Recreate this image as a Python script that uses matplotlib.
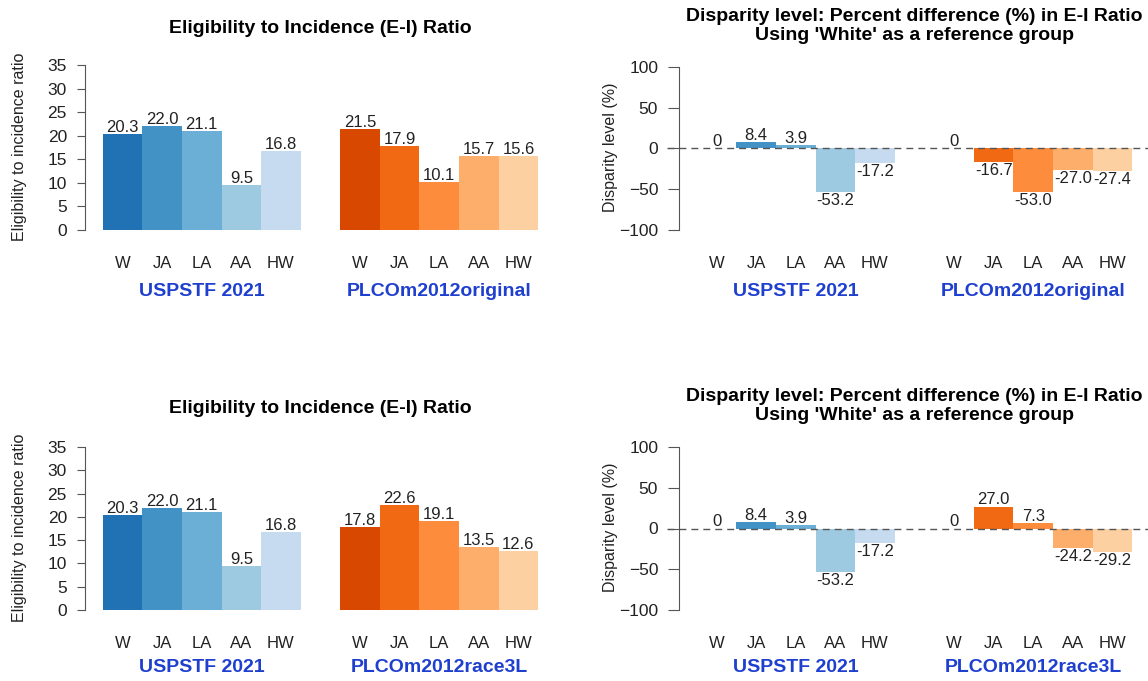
import numpy as np
import matplotlib
matplotlib.use('Agg')
import matplotlib.pyplot as plt
from matplotlib.transforms import blended_transform_factory

plt.rcParams['font.family'] = ['Liberation Sans', 'DejaVu Sans']

# data
groups = ['W', 'JA', 'LA', 'AA', 'HW']
ref_name = 'USPSTF 2021'
model_top = 'PLCOm2012original'
model_bottom = 'PLCOm2012race3L'

ei_uspstf = [20.3, 22.0, 21.1, 9.5, 16.8]
ei_original = [21.5, 17.9, 10.1, 15.7, 15.6]
ei_race3l = [17.8, 22.6, 19.1, 13.5, 12.6]

disp_uspstf = [0, 8.4, 3.9, -53.2, -17.2]
disp_original = [0, -16.7, -53.0, -27.0, -27.4]
disp_race3l = [0, 27.0, 7.3, -24.2, -29.2]

ei_ticks = [0, 5, 10, 15, 20, 25, 30, 35]
disp_ticks = [-100, -50, 0, 50, 100]

blues = ['#2171b5', '#4292c6', '#6baed6', '#9ecae1', '#c6dbef']
oranges = ['#d94801', '#f16913', '#fd8d3c', '#fdae6b', '#fdd0a2']
group_blue = '#1f3fcf'
txt = '#222222'

W, H = 1148, 681
fig = plt.figure(figsize=(W / 100, H / 100), dpi=100)


def fy(y):
    # pixel row -> figure fraction
    return 1 - y / H


def fmt(v):
    return '0' if v == 0 else f'{v:.1f}'


def panel(x0, x1, y0, y1, vals1, vals2, ylim, yticks, model, disparity,
          ylab, ylab_x, title_lines, tick_len, grp_y):
    ax = fig.add_axes([x0 / W, fy(y1), (x1 - x0) / W, (y1 - y0) / H])
    pos1 = np.arange(5) + 0.5
    pos2 = np.arange(5) + 6.5
    ax.bar(pos1, vals1, width=1, color=blues, edgecolor='none', zorder=2)
    ax.bar(pos2, vals2, width=1, color=oranges, edgecolor='none', zorder=2)
    ax.set_xlim(-0.45, 11.45)
    ax.set_ylim(*ylim)
    for s in ['top', 'right', 'bottom']:
        ax.spines[s].set_visible(False)
    ax.spines['left'].set_bounds(yticks[0], yticks[-1])
    ax.spines['left'].set_color('#555555')
    ax.set_xticks([])
    ax.set_yticks(yticks)
    ax.tick_params(axis='y', length=tick_len, pad=7, labelsize=12.5,
                   color='#555555', labelcolor=txt)
    ax.patch.set_visible(False)

    # value labels
    off = (ylim[1] - ylim[0]) / (y1 - y0) * 2
    for p, v in list(zip(pos1, vals1)) + list(zip(pos2, vals2)):
        if v >= 0:
            ax.text(p, v + off, fmt(v), ha='center', va='baseline',
                    fontsize=12, color=txt, zorder=4)
        else:
            ax.text(p, v - off / 2, fmt(v), ha='center', va='top',
                    fontsize=12, color=txt, zorder=4)

    if disparity:
        ax.plot([-0.75, 11.6], [0, 0], color='#555555', lw=1,
                dashes=(5, 3.6), zorder=3, clip_on=False)

    # category and group labels under the bars
    tr = blended_transform_factory(ax.transData, fig.transFigure)
    for p, g in zip(list(pos1) + list(pos2), groups + groups):
        ax.text(p, fy(y1 + 31), g, transform=tr, ha='center', va='baseline',
                fontsize=12, color=txt)
    ax.text(2.5, fy(grp_y), ref_name, transform=tr, ha='center',
            va='center', fontsize=14, fontweight='bold', color=group_blue)
    ax.text(8.5, fy(grp_y), model, transform=tr, ha='center',
            va='center', fontsize=14, fontweight='bold', color=group_blue)

    cx = (x0 + x1) / 2
    for line, yb in title_lines:
        fig.text(cx / W, fy(yb), line, ha='center', va='baseline',
                 fontsize=14, fontweight='bold', color='black')
    fig.text(ylab_x / W, fy((y0 + y1) / 2 - 1), ylab, rotation=90,
             ha='center', va='center', fontsize=11.5, color=txt)
    return ax


ei_title = 'Eligibility to Incidence (E-I) Ratio'
d1 = 'Disparity level: Percent difference (%) in E-I Ratio'
d2 = "Using 'White' as a reference group"

# top row
panel(85, 556, 58.5, 236.5, ei_uspstf, ei_original, (-1.4, 36.4), ei_ticks,
      model_top, False, 'Eligibility to incidence ratio', 20,
      [(ei_title, 33)], 6, 292)
panel(679, 1150, 60.5, 236.5, disp_uspstf, disp_original, (-108, 108),
      disp_ticks, model_top, True, 'Disparity level (%)', 611,
      [(d1, 21), (d2, 40)], 8, 292)

# bottom row
panel(85, 556, 440.5, 616.5, ei_uspstf, ei_race3l, (-1.4, 36.4), ei_ticks,
      model_bottom, False, 'Eligibility to incidence ratio', 20,
      [(ei_title, 413)], 6, 667)
panel(679, 1150, 440.5, 616.5, disp_uspstf, disp_race3l, (-108, 108),
      disp_ticks, model_bottom, True, 'Disparity level (%)', 611,
      [(d1, 401), (d2, 420)], 8, 667)

fig.savefig('out.png', dpi=100)
